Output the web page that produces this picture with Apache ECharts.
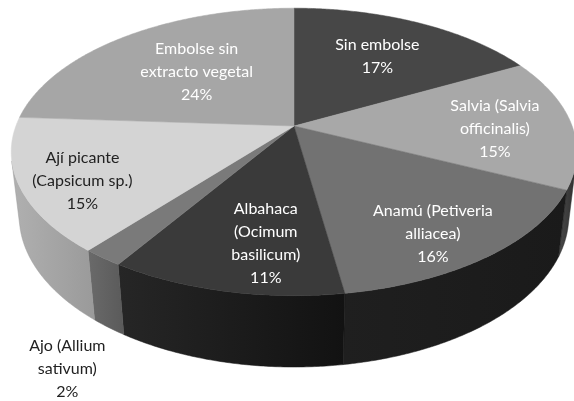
<!DOCTYPE html>
<html>
<head>
<meta charset="utf-8">
<script src="https://cdn.jsdelivr.net/npm/echarts@6/dist/echarts.min.js"></script>
<style>
  html, body { margin: 0; padding: 0; background: #fff; }
  #main { width: 574px; height: 401px; }
</style>
</head>
<body>
<div id="main"></div>
<script>
// slices, clockwise from 12 o'clock
var names = [
  'Sin embolse',
  'Salvia (Salvia\nofficinalis)',
  'Anamú (Petiveria\nalliacea)',
  'Albahaca\n(Ocimum\nbasilicum)',
  'Ajo (Allium\nsativum)',
  'Ají picante\n(Capsicum sp.)',
  'Embolse sin\nextracto vegetal'
];
var values = [17.2, 14.8, 15.6, 11.4, 2, 15, 24];

// look
var topColors = ['#474747', '#a8a8a8', '#727272', '#3a3a3a', '#7a7a7a', '#d4d4d4', '#a6a6a6'];
var sideColors = [
  ['#333333', '#333333'],
  ['#4a4a4a', '#2e2e2e'],
  ['#1f1f1f', '#1a1a1a'],
  ['#262626', '#121212'],
  ['#6a6a6a', '#5a5a5a'],
  ['#b0b0b0', '#9a9a9a'],
  ['#8a8a8a', '#8a8a8a']
];
var labelColors = ['#fff', '#fff', '#fff', '#fff', '#222', '#222', '#fff'];
var labelR = [0.64, 0.72, 0.81, 0.735, 1.466, 0.8, 0.56];
var labelShift = [0, 3, 4, -5, -11, -4, 1]; // degrees

// 3d pie projection (perspective, like excel)
var CX = 294, CY = 126, K = 1335, DIST = 4.8, TILT = 30 * Math.PI / 180, H = 0.271;
function proj(theta, r, y) {
  var X = r * Math.sin(theta), Z = r * Math.cos(theta);
  var ca = Math.cos(TILT), sa = Math.sin(TILT);
  var depth = DIST + Z * ca - y * sa;
  return [CX + K * X / depth, CY - K * (y * ca + Z * sa) / depth];
}

var total = values.reduce(function (a, b) { return a + b; }, 0);
var starts = [];
var acc = 0;
values.forEach(function (v) { starts.push(acc); acc += v; });

// side of the cylinder is seen only for this range of angles
var visA = Math.acos(-1 / (DIST * Math.cos(TILT)));
var visB = 2 * Math.PI - visA;

function renderItem(params, api) {
  var i = params.dataIndex;
  var v = api.value(0);
  var a0 = starts[i] / total * 2 * Math.PI;
  var a1 = (starts[i] + v) / total * 2 * Math.PI;
  var children = [];
  var step = Math.PI / 360;

  // side face
  var s0 = Math.max(a0, visA), s1 = Math.min(a1, visB);
  if (s1 > s0) {
    var up = [], down = [];
    for (var t = s0; t < s1; t += step) {
      up.push(proj(t, 1, 0));
      down.push(proj(t, 1, -H));
    }
    up.push(proj(s1, 1, 0));
    down.push(proj(s1, 1, -H));
    children.push({
      type: 'polygon',
      shape: { points: up.concat(down.reverse()) },
      style: {
        fill: new echarts.graphic.LinearGradient(0, 0, 1, 0, [
          { offset: 0, color: sideColors[i][0] },
          { offset: 1, color: sideColors[i][1] }
        ]),
        stroke: sideColors[i][1], lineWidth: 0.5
      },
      z2: 1
    });
  }

  // top face
  var pts = [proj(0, 0, 0)];
  for (var t2 = a0; t2 < a1; t2 += step) pts.push(proj(t2, 1, 0));
  pts.push(proj(a1, 1, 0));
  children.push({
    type: 'polygon',
    shape: { points: pts },
    style: { fill: topColors[i], stroke: topColors[i], lineWidth: 0.5 },
    z2: 2
  });

  // label
  var mid = (a0 + a1) / 2 + labelShift[i] * Math.PI / 180;
  var p = proj(mid, labelR[i], 0);
  children.push({
    type: 'text',
    x: p[0], y: p[1],
    style: {
      text: names[i] + '\n' + Math.round(v / total * 100) + '%',
      fill: labelColors[i],
      font: '16px Lato',
      align: 'center',
      verticalAlign: 'middle',
      lineHeight: 23
    },
    z2: 100
  });

  return { type: 'group', children: children };
}

var myChart = echarts.init(document.getElementById('main'));
myChart.setOption({
  backgroundColor: '#fff',
  animation: false,
  series: [{
    type: 'custom',
    coordinateSystem: 'none',
    renderItem: renderItem,
    data: values.map(function (v, i) { return { name: names[i], value: [v] }; })
  }]
});
</script>
</body>
</html>
